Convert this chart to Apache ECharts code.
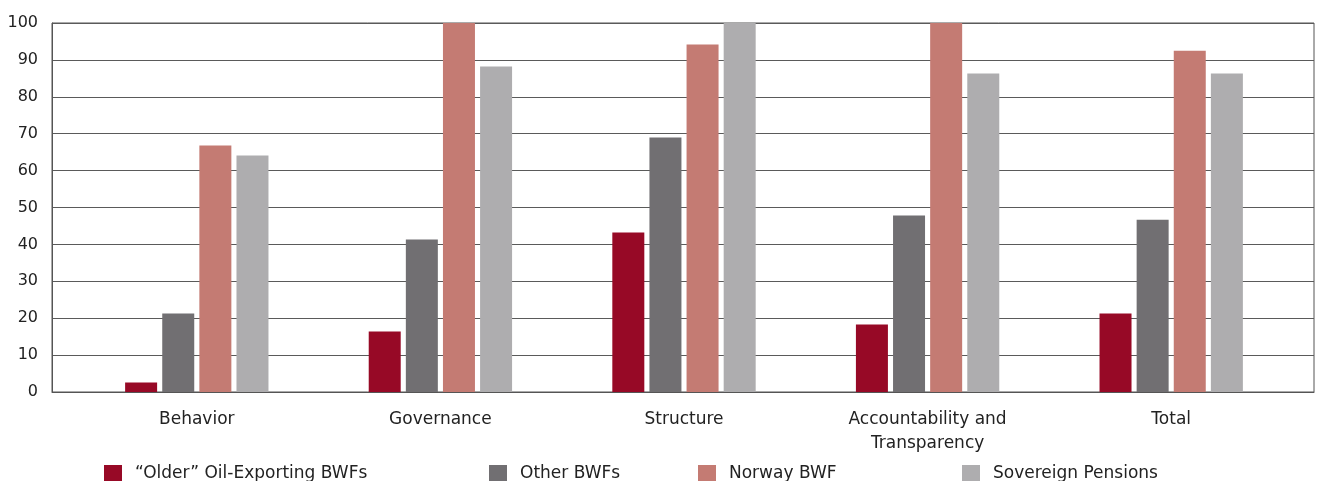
<!DOCTYPE html>
<html>
<head>
<meta charset="utf-8">
<script src="https://cdn.jsdelivr.net/npm/echarts@6/dist/echarts.min.js"></script>
<style>
  html, body { margin: 0; padding: 0; background: #fff; }
  #root { width: 1322px; height: 481px; }
</style>
</head>
<body>
<div id="root"></div>
<script>
const categories = ['Behavior', 'Governance', 'Structure', 'Accountability and\nTransparency', 'Total'];
const seriesNames = ['\u201cOlder\u201d Oil-Exporting BWFs', 'Other BWFs', 'Norway BWF', 'Sovereign Pensions'];
const olderBWF = [2.6, 16.4, 43.2, 18.3, 21.3];
const otherBWF = [21.3, 41.3, 69.0, 47.8, 46.7];
const norwayBWF = [66.8, 100, 94.2, 100, 92.5];
const pensions = [64.1, 88.2, 100, 86.3, 86.3];
const yTicks = [0, 10, 20, 30, 40, 50, 60, 70, 80, 90, 100];

const colors = ['#970926', '#716f72', '#c47b73', '#aeadaf'];
const font = 'DejaVu Sans';

const root = document.getElementById('root');
const chart = echarts.init(root);

const values = [olderBWF, otherBWF, norwayBWF, pensions];
const legendLeft = [104, 489, 698, 962];

const option = {
  animation: false,
  color: colors,
  textStyle: { fontFamily: font },
  grid: [
    // bars
    { left: 75, right: 29, top: 23, bottom: 89 },
    // frame + y axis
    { left: 52, right: 8, top: 23, bottom: 89, show: true, borderColor: '#555', borderWidth: 1, backgroundColor: 'transparent' }
  ],
  legend: seriesNames.map((n, i) => ({
    data: [n],
    left: legendLeft[i],
    top: 465,
    padding: 0,
    itemWidth: 18,
    itemHeight: 18,
    itemGap: 0,
    icon: 'rect',
    textStyle: { fontSize: 17, color: '#222', fontFamily: font, padding: [8, 0, 0, 8] }
  })),
  xAxis: [
    {
      type: 'category',
      gridIndex: 0,
      data: categories,
      axisLine: { show: false },
      axisTick: { show: false },
      axisLabel: { fontSize: 17, color: '#222', margin: 16, lineHeight: 24, fontFamily: font }
    },
    {
      type: 'value',
      gridIndex: 1,
      min: 0,
      max: 1,
      axisLine: { show: true, lineStyle: { color: '#555', width: 1 } },
      axisTick: { show: false },
      axisLabel: { show: false },
      splitLine: { show: false }
    }
  ],
  yAxis: [
    {
      type: 'value',
      gridIndex: 0,
      min: 0,
      max: 100,
      interval: 10,
      show: false,
      splitLine: { show: false }
    },
    {
      type: 'value',
      gridIndex: 1,
      min: yTicks[0],
      max: yTicks[yTicks.length - 1],
      interval: 10,
      axisLine: { show: true, lineStyle: { color: '#555', width: 1 } },
      axisTick: { show: false },
      axisLabel: { fontSize: 16, color: '#222', margin: 14, fontFamily: font },
      splitLine: { show: true, lineStyle: { color: '#5a5a5a', width: 1.2 } }
    }
  ],
  series: seriesNames.map((n, i) => ({
    name: n,
    type: 'bar',
    xAxisIndex: 0,
    yAxisIndex: 0,
    data: values[i],
    barWidth: 32,
    barGap: '16%',
    itemStyle: { color: colors[i] }
  }))
};

chart.setOption(option);
</script>
</body>
</html>
